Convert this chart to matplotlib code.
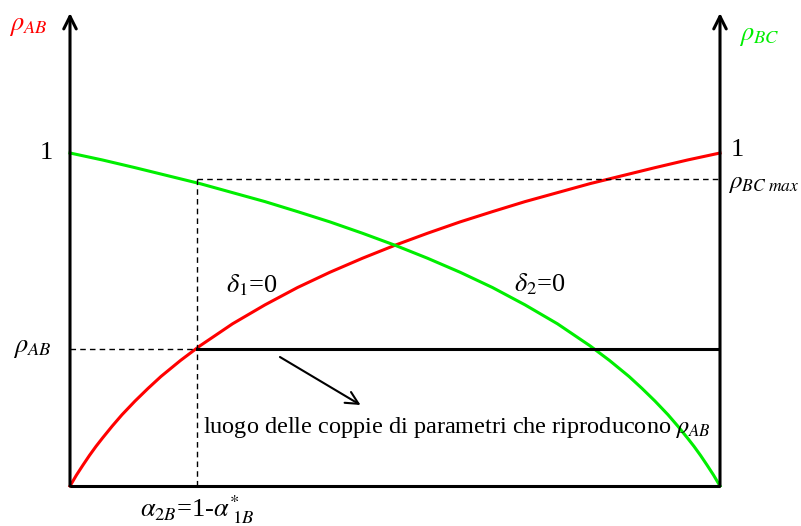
import numpy as np
import matplotlib
matplotlib.use('Agg')
import matplotlib.pyplot as plt

plt.rcParams['font.family'] = 'serif'
plt.rcParams['font.serif'] = ['Liberation Serif', 'DejaVu Serif']
plt.rcParams['mathtext.fontset'] = 'stix'

# curva delta1 = 0 (rho_AB) in funzione di alpha
alpha_ab = [0, 0.01, 0.02, 0.03, 0.04, 0.05, 0.065, 0.08, 0.1, 0.12, 0.14, 0.17,
            0.2, 0.25, 0.3, 0.35, 0.4, 0.45, 0.5, 0.55, 0.6, 0.65, 0.7, 0.75,
            0.8, 0.85, 0.9, 0.95, 1.0]
rho_ab_curve = [0, 0.033, 0.063, 0.092, 0.119, 0.144, 0.180, 0.214, 0.255, 0.293,
                0.329, 0.377, 0.421, 0.487, 0.544, 0.596, 0.642, 0.684, 0.723,
                0.759, 0.793, 0.824, 0.854, 0.881, 0.908, 0.932, 0.956, 0.979, 1.0]

# curva delta2 = 0 (rho_BC)
alpha_bc = [0, 0.05, 0.1, 0.15, 0.2, 0.25, 0.3, 0.35, 0.4, 0.45, 0.5, 0.55,
            0.6, 0.65, 0.7, 0.75, 0.8, 0.83, 0.86, 0.88, 0.9, 0.92, 0.935,
            0.95, 0.96, 0.97, 0.98, 0.99, 1.0]
rho_bc_curve = [1.0, 0.979, 0.956, 0.932, 0.908, 0.881, 0.854, 0.824, 0.793, 0.759,
                0.723, 0.684, 0.642, 0.596, 0.544, 0.487, 0.421, 0.377, 0.329,
                0.293, 0.255, 0.214, 0.180, 0.144, 0.119, 0.092, 0.063, 0.033, 0]

rho_ab = 0.41      # valore fissato di rho_AB
alpha_2b = 0.195   # alpha_2B = 1 - alpha*_1B
rho_bc_max = 0.922

green = '#00ee00'

fig = plt.figure(figsize=(8.01, 5.26), dpi=100)
ax = fig.add_axes([70/801, 40/526, 650/801, 473/526])
ax.set_xlim(0, 1)
ax.set_ylim(0, 473/333)
ax.axis('off')

ax.plot(alpha_ab, rho_ab_curve, color='red', lw=2.2, solid_joinstyle='round', clip_on=False)
ax.plot(alpha_bc, rho_bc_curve, color=green, lw=2.2, solid_joinstyle='round', clip_on=False)

# assi
ax.plot([0, 1], [0, 0], color='black', lw=2.2, solid_capstyle='butt', clip_on=False)
head = dict(arrowstyle='->,head_length=0.9,head_width=0.45', lw=2.2, color='black',
            shrinkA=0, shrinkB=0)
ax.annotate('', xy=(0, 473/333), xytext=(0, 0), arrowprops=head)
ax.annotate('', xy=(1, 473/333), xytext=(1, 0), arrowprops=head)

# tratteggi di riferimento
d = dict(color='black', lw=1, ls=(0, (4, 3)))
ax.plot([0, alpha_2b], [rho_ab, rho_ab], **d)
ax.plot([alpha_2b, alpha_2b], [0, rho_bc_max], **d)
ax.plot([alpha_2b, 1], [rho_bc_max, rho_bc_max], **d)

# luogo delle coppie
ax.plot([alpha_2b, 1], [rho_ab, rho_ab], color='black', lw=2.2)
ax.annotate('', xy=(0.447, (486-405)/333), xytext=(0.323, (486-357)/333),
            arrowprops=dict(arrowstyle='->,head_length=0.9,head_width=0.45', lw=1.5,
                            color='black', shrinkA=0, shrinkB=0))

fs = 19
ax.text(-0.094, (486-27)/333, r'$\rho_{AB}$', color='red', fontsize=fs, ha='left', va='center')
ax.text(1.06, (486-37)/333, r'$\rho_{BC}$', color=green, fontsize=fs, ha='center', va='center')
ax.text(-0.037, 1.0, '1', fontsize=fs, ha='center', va='center')
ax.text(1.027, 1.01, '1', fontsize=fs, ha='center', va='center')
ax.text(1.012, rho_bc_max - 0.015, r'$\rho_{BC\ max}$', fontsize=fs - 1, ha='left', va='center')
ax.text(-0.058, rho_ab, r'$\rho_{AB}$', fontsize=fs, ha='center', va='center')
ax.text(alpha_2b, -0.07, r'$\alpha_{2B}$=1-$\alpha^{*}_{\ 1B}$', fontsize=fs, ha='center', va='center')
ax.text(0.28, (486-285)/333, r'$\delta_1$=0', fontsize=fs, ha='center', va='center')
ax.text(0.723, (486-284)/333, r'$\delta_2$=0', fontsize=fs, ha='center', va='center')
ax.text(0.205, (486-428)/333, r'luogo delle coppie di parametri che riproducono $\rho_{AB}$',
        fontsize=17.5, ha='left', va='center')

fig.savefig('out.png', dpi=100)
